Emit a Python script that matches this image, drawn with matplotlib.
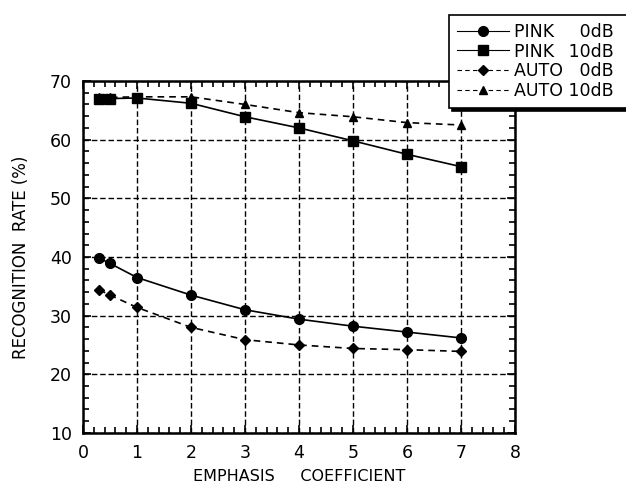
"""Recognition rate vs emphasis coefficient (PINK / AUTO noise)."""

import matplotlib

matplotlib.use("Agg")
import matplotlib.pyplot as plt  # noqa: E402
from matplotlib.ticker import MultipleLocator  # noqa: E402

emphasis = [0.3, 0.5, 1, 2, 3, 4, 5, 6, 7]
pink_0db = [39.8, 38.9, 36.5, 33.5, 31.0, 29.4, 28.2, 27.2, 26.2]
pink_10db = [66.9, 67.0, 67.1, 66.2, 63.9, 62.0, 59.8, 57.5, 55.4]
auto_0db = [34.4, 33.5, 31.4, 28.0, 25.9, 25.0, 24.4, 24.2, 23.9]
auto_10db = [67.2, 67.2, 67.3, 67.3, 66.0, 64.6, 63.9, 62.9, 62.5]

# labels padded so that "0dB" / "10dB" line up on the right;
# trailing space pushes the legend frame past the figure edge as in the original
series = [
    ("PINK  \u2009\u20070dB  ", pink_0db, "-", "o", 7),
    ("PINK  \u200910dB  ", pink_10db, "-", "s", 7),
    ("AUTO \u20070dB  ", auto_0db, "--", "D", 5),
    ("AUTO 10dB  ", auto_10db, "--", "^", 6),
]

plt.rcParams["font.family"] = ["DejaVu Sans"]

fig = plt.figure(figsize=(6.26, 4.92), dpi=100)
ax = fig.add_axes([0.1326, 0.120, 0.690, 0.7154])

for label, vals, ls, mk, ms in series:
    ax.plot(emphasis, vals, ls=ls, marker=mk, ms=ms, color="black",
            lw=1.2, label=label, dashes=(4, 3) if ls == "--" else (None, None))

ax.set_xlim(0, 8)
ax.set_ylim(10, 70)
ax.xaxis.set_major_locator(MultipleLocator(1))
ax.xaxis.set_minor_locator(MultipleLocator(0.2))
ax.yaxis.set_major_locator(MultipleLocator(10))
ax.yaxis.set_minor_locator(MultipleLocator(2))
ax.tick_params(which="both", direction="in", top=True, right=True,
               labelsize=12.5, width=1.2)
ax.tick_params(which="major", length=6, pad=8)
ax.tick_params(which="minor", length=4)
for sp in ax.spines.values():
    sp.set_linewidth(1.8)
ax.grid(True, which="major", color="black", ls=(0, (4, 2)), lw=1.0)

ax.set_xlabel("EMPHASIS     COEFFICIENT", fontsize=11.5, labelpad=5)
ax.set_ylabel("RECOGNITION  RATE (%)", fontsize=12, labelpad=14)

leg = fig.legend(loc="upper left", bbox_to_anchor=(0.717, 0.9695),
                 fontsize=12.5, frameon=True, fancybox=False, framealpha=1,
                 edgecolor="black", handlelength=3.0, borderpad=0.45,
                 labelspacing=0.1, handletextpad=0.3, borderaxespad=0,
                 shadow={"color": "black", "alpha": 1, "ox": 2, "oy": -2})
leg.get_frame().set_linewidth(1.2)
for h in leg.get_lines():
    h.set_linewidth(0.8)

fig.savefig("out.png", dpi=100)
